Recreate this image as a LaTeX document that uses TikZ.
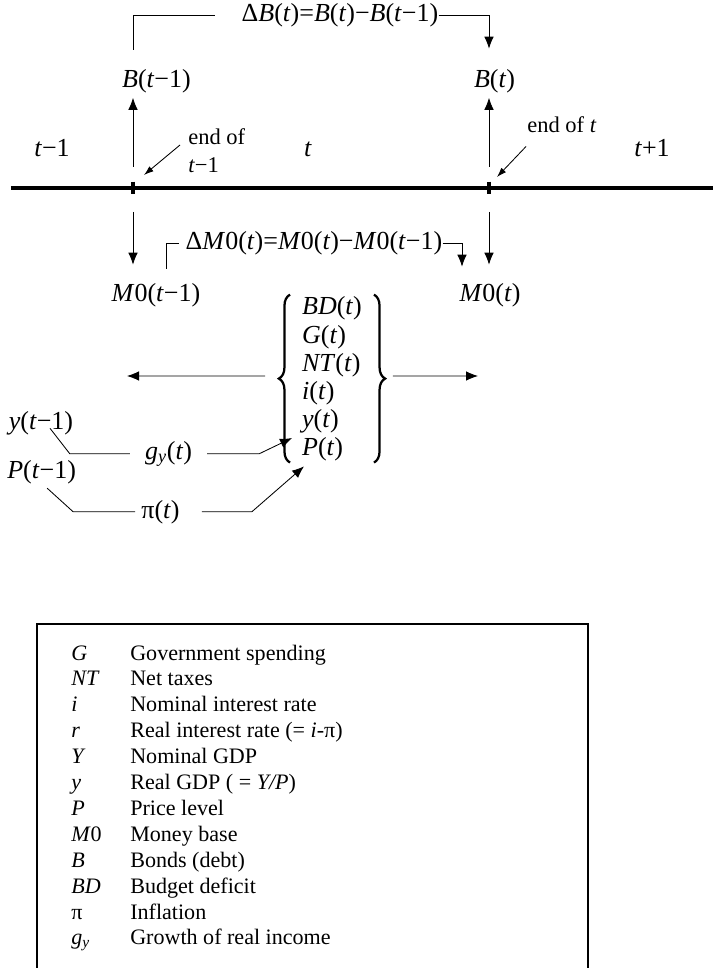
\documentclass[tikz,border=0pt]{standalone}
\usepackage{fontspec}
\setmainfont{Liberation Serif}
\usetikzlibrary{arrows.meta,decorations.pathreplacing}
\newcommand{\itv}[1]{\textit{#1}}

\begin{document}
\begin{tikzpicture}[every node/.style={font=\fontsize{18.5}{20}\selectfont,inner sep=0pt},
  conn/.style={line width=0.6pt},
  arr/.style={conn,-{Latex[length=3mm,width=2.4mm]}},
  tip/.style={conn,-{Latex[length=2.4mm,width=1.6mm]}},
  curly/.style={decorate,decoration={brace,amplitude=0.28cm},line width=1.6pt},
  note/.style={font=\fontsize{16}{20.5}\selectfont},
  leg/.style={font=\fontsize{15.7}{18}\selectfont,anchor=base west}]
\useasboundingbox (0,0) rectangle (17.825,-24.2);
% time axis with the two period ends
\coordinate (axl) at (0.275,-4.7);
\coordinate (axr) at (17.825,-4.7);
\coordinate (t1) at (3.325,-4.7);
\coordinate (t2) at (12.225,-4.7);
\draw[line width=2.2pt] (axl) -- (axr);
\foreach \c in {t1,t2}
  \draw[line width=2.2pt] ([yshift=0.16cm]\c) -- ([yshift=-0.16cm]\c);
\node[anchor=base] (pprev) at (1.3,-3.925) {\itv{t}−1};
\node[anchor=base] (pcur) at (7.7,-3.925) {\itv{t}};
\node[anchor=base] (pnext) at (16.3,-3.925) {\itv{t}+1};
\node[note,anchor=north west,align=left] (end1) at (4.7,-3.2) {end of\\\itv{t}−1};
\node[note,anchor=base west] (end2) at (13.175,-3.325) {end of \itv{t}};
\draw[tip] ([shift={(-0.2,-0.425)}]end1.north west) -- ([shift={(0.275,0.325)}]t1);
\draw[tip] ([shift={(-0.025,-0.325)}]end2.south west) -- ([shift={(0.2,0.275)}]t2);
% bonds
\node[anchor=base] (Bprev) at (3.9125,-2.2) {\itv{B}(\itv{t}−1)};
\node[anchor=base] (Bcur) at (12.3625,-2.2) {\itv{B}(\itv{t})};
\node[anchor=base] (dB) at (8.5,-0.55) {Δ\itv{B}(\itv{t})=\itv{B}(\itv{t})−\itv{B}(\itv{t}−1)};
\draw[arr,shorten >=0.1cm] ([yshift=0.525cm]t1) -- (Bprev.south -| t1);
\draw[arr,shorten >=0.1cm] ([yshift=0.525cm]t2) -- (Bcur.south -| t2);
\draw[conn] (Bprev.north -| t1) ++(0,0.5) |- ([xshift=-0.65cm]dB.west);
\draw[arr,shorten >=0.525cm] (dB.east) -| (Bcur.north -| t2);
% money base
\node[anchor=base] (M0prev) at (3.9,-7.55) {\itv{M}0(\itv{t}−1)};
\node[anchor=base] (M0cur) at (12.25,-7.55) {\itv{M}0(\itv{t})};
\node[anchor=base] (dM0) at (7.85,-6.25) {Δ\itv{M}0(\itv{t})=\itv{M}0(\itv{t})−\itv{M}0(\itv{t}−1)};
\draw[arr,shorten >=0.475cm] ([yshift=-0.6cm]t1) -- (M0prev.north -| t1);
\draw[arr,shorten >=0.475cm] ([yshift=-0.6cm]t2) -- (M0cur.north -| t2);
\draw[conn] ([shift={(0.25,0.375)}]M0prev.north) |- ([xshift=-0.15cm]dM0.west);
\draw[arr] (dM0.east) -| ([shift={(-0.7,0.425)}]M0cur.north);
% variables of period t
\node[inner xsep=0.57cm,align=left] (vars) at (8.3,-9.475)
  {\itv{BD}(\itv{t})\\ \itv{G}(\itv{t})\\ \itv{NT}(\itv{t})\\ \itv{i}(\itv{t})\\ \itv{y}(\itv{t})\\ \itv{P}(\itv{t})};
\draw[curly] ([shift={(0.275,-0.03)}]vars.south west) -- ([shift={(0.275,0.05)}]vars.north west);
\draw[curly] ([shift={(-0.275,0.05)}]vars.north east) -- ([shift={(-0.275,-0.03)}]vars.south east);
\coordinate (lend) at (3.175,-9.4);
\coordinate (rend) at (11.95,-9.4);
\draw[arr] ([shift={(-0.35,0.075)}]vars.west) -- (lend);
\draw[arr] ([shift={(0.2,0.075)}]vars.east) -- (rend);
% growth and inflation
\node[anchor=base] (ypre) at (1.025,-10.725) {\itv{y}(\itv{t}−1)};
\node[anchor=base] (Ppre) at (1.04,-11.95) {\itv{P}(\itv{t}−1)};
\node[anchor=base] (gy) at (4.2125,-11.475) {\itv{g}\textsubscript{\itv{y}}(\itv{t})};
\node[anchor=base] (pi) at (4.0125,-12.95) {π(\itv{t})};
\draw[conn] ([shift={(0.225,0.165)}]ypre.south) -- ([xshift=-1.875cm]gy.west) -- ([xshift=-0.375cm]gy.west);
\draw[arr] ([xshift=0.375cm]gy.east) -- ([xshift=1.675cm]gy.east) -- ([shift={(0.325,-1.475)}]vars.west);
\draw[conn] ([shift={(0.14,-0.11)}]Ppre.south) -- ([xshift=-1.7cm]pi.west) -- ([xshift=-0.15cm]pi.west);
\draw[arr] ([xshift=0.55cm]pi.east) -- ([xshift=1.8cm]pi.east) -- ([shift={(-0.7,-0.125)}]vars.south);
% legend
\draw[line width=1pt] (0.925,-24.2) -- (0.925,-15.6) -- (14.7,-15.6) -- (14.7,-24.2);
\foreach \s/\d [count=\k from 0] in {{\itv{G}}/{Government spending},
    {\itv{NT}}/{Net taxes},
    {\itv{i}}/{Nominal interest rate},
    {\itv{r}}/{Real interest rate (= \itv{i}-π)},
    {\itv{Y}}/{Nominal GDP},
    {\itv{y}}/{Real GDP ( = \itv{Y/P})},
    {\itv{P}}/{Price level},
    {\itv{M}0}/{Money base},
    {\itv{B}}/{Bonds (debt)},
    {\itv{BD}}/{Budget deficit},
    {π}/{Inflation},
    {\itv{g}\textsubscript{\itv{y}}}/{Growth of real income}}
{
  \node[leg] (sym\k) at (1.775,{-16.5-0.6475*\k}) {\s};
  \node[leg] (dsc\k) at (3.25,{-16.5-0.6475*\k}) {\d};
}
\end{tikzpicture}
\end{document}
